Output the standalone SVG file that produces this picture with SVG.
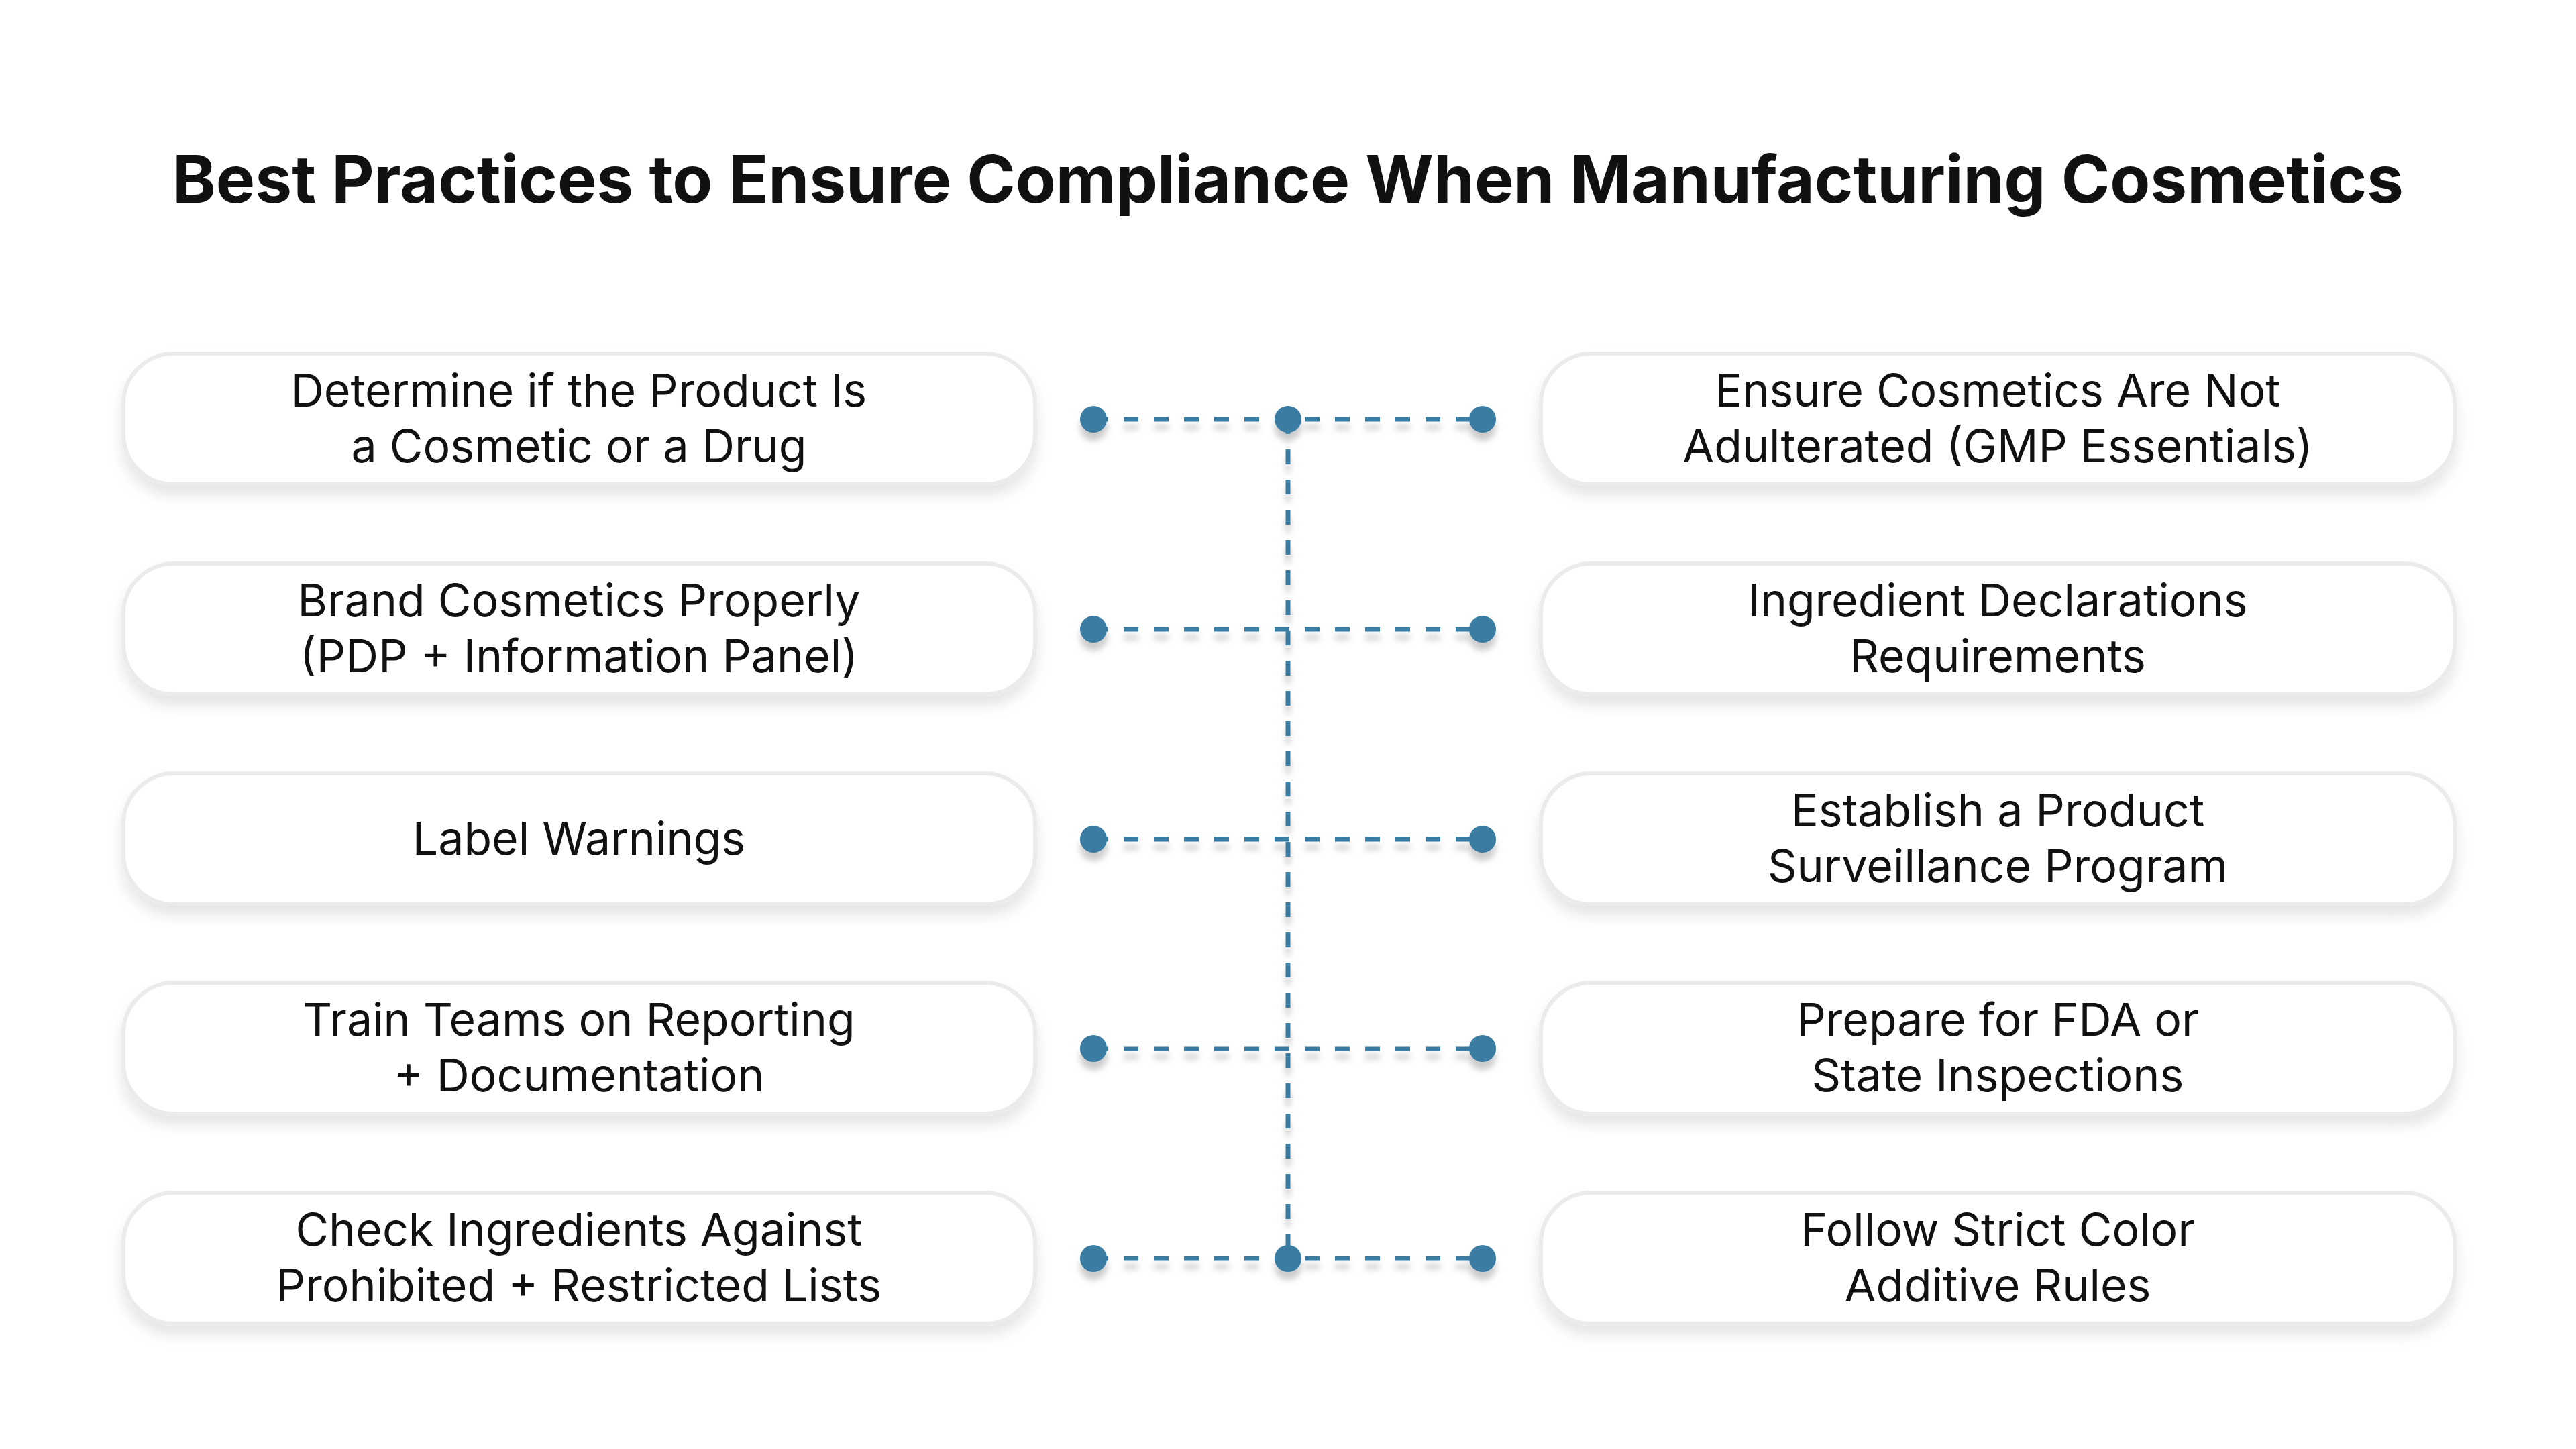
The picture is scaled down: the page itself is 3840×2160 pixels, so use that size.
<svg xmlns="http://www.w3.org/2000/svg" width="3840" height="2160" viewBox="0 0 3840 2160">
<style>
.box{fill:#fff;stroke:#ebebeb;stroke-width:6}
.t{font-family:Inter,"Liberation Sans",sans-serif;font-size:68px;fill:#111;text-anchor:middle}
.c{stroke:#3b7ca3;stroke-width:7;stroke-dasharray:22 23;fill:none}
.d{fill:#3b7ca3}
</style>
<defs>
<filter id="sh" x="-10%" y="-20%" width="120%" height="160%"><feDropShadow dx="0" dy="14" stdDeviation="10" flood-color="#000" flood-opacity="0.10"/></filter>
<filter id="ds" x="-100%" y="-100%" width="300%" height="300%"><feDropShadow dx="0" dy="12" stdDeviation="5" flood-color="#000" flood-opacity="0.2"/></filter>
</defs>
<rect width="3840" height="2160" fill="#fff"/>
<text x="1920" y="302" font-family="Inter,'Liberation Sans',sans-serif" font-size="98" font-weight="700" text-anchor="middle" fill="#111">Best Practices to Ensure Compliance When Manufacturing Cosmetics</text>
<g id="connectors" filter="url(#ds)">
<path class="c" d="M1630 625H2210M1630 938H2210M1630 1251H2210M1630 1563H2210M1630 1876H2210M1920 625V1876"/>
<circle class="d" cx="1630" cy="625" r="20"/><circle class="d" cx="1920" cy="625" r="20"/><circle class="d" cx="2210" cy="625" r="20"/>
<circle class="d" cx="1630" cy="938" r="20"/><circle class="d" cx="2210" cy="938" r="20"/>
<circle class="d" cx="1630" cy="1251" r="20"/><circle class="d" cx="2210" cy="1251" r="20"/>
<circle class="d" cx="1630" cy="1563" r="20"/><circle class="d" cx="2210" cy="1563" r="20"/>
<circle class="d" cx="1630" cy="1876" r="20"/><circle class="d" cx="1920" cy="1876" r="20"/><circle class="d" cx="2210" cy="1876" r="20"/>
</g>
<g id="l1"><rect class="box" filter="url(#sh)" x="184" y="527" width="1359" height="195" rx="75"/><text class="t" x="863" y="606">Determine if the Product Is</text><text class="t" x="863" y="689">a Cosmetic or a Drug</text></g>
<g id="l2"><rect class="box" filter="url(#sh)" x="184" y="840" width="1359" height="195" rx="75"/><text class="t" x="863" y="919">Brand Cosmetics Properly</text><text class="t" x="863" y="1002">(PDP + Information Panel)</text></g>
<g id="l3"><rect class="box" filter="url(#sh)" x="184" y="1153" width="1359" height="195" rx="75"/><text class="t" x="863" y="1274">Label Warnings</text></g>
<g id="l4"><rect class="box" filter="url(#sh)" x="184" y="1465" width="1359" height="195" rx="75"/><text class="t" x="863" y="1544">Train Teams on Reporting</text><text class="t" x="863" y="1627">+ Documentation</text></g>
<g id="l5"><rect class="box" filter="url(#sh)" x="184" y="1778" width="1359" height="195" rx="75"/><text class="t" x="863" y="1857">Check Ingredients Against</text><text class="t" x="863" y="1940">Prohibited + Restricted Lists</text></g>
<g id="r1"><rect class="box" filter="url(#sh)" x="2297" y="527" width="1362" height="195" rx="75"/><text class="t" x="2978" y="606">Ensure Cosmetics Are Not</text><text class="t" x="2978" y="689">Adulterated (GMP Essentials)</text></g>
<g id="r2"><rect class="box" filter="url(#sh)" x="2297" y="840" width="1362" height="195" rx="75"/><text class="t" x="2978" y="919">Ingredient Declarations</text><text class="t" x="2978" y="1002">Requirements</text></g>
<g id="r3"><rect class="box" filter="url(#sh)" x="2297" y="1153" width="1362" height="195" rx="75"/><text class="t" x="2978" y="1232">Establish a Product</text><text class="t" x="2978" y="1315">Surveillance Program</text></g>
<g id="r4"><rect class="box" filter="url(#sh)" x="2297" y="1465" width="1362" height="195" rx="75"/><text class="t" x="2978" y="1544">Prepare for FDA or</text><text class="t" x="2978" y="1627">State Inspections</text></g>
<g id="r5"><rect class="box" filter="url(#sh)" x="2297" y="1778" width="1362" height="195" rx="75"/><text class="t" x="2978" y="1857">Follow Strict Color</text><text class="t" x="2978" y="1940">Additive Rules</text></g>
</svg>
